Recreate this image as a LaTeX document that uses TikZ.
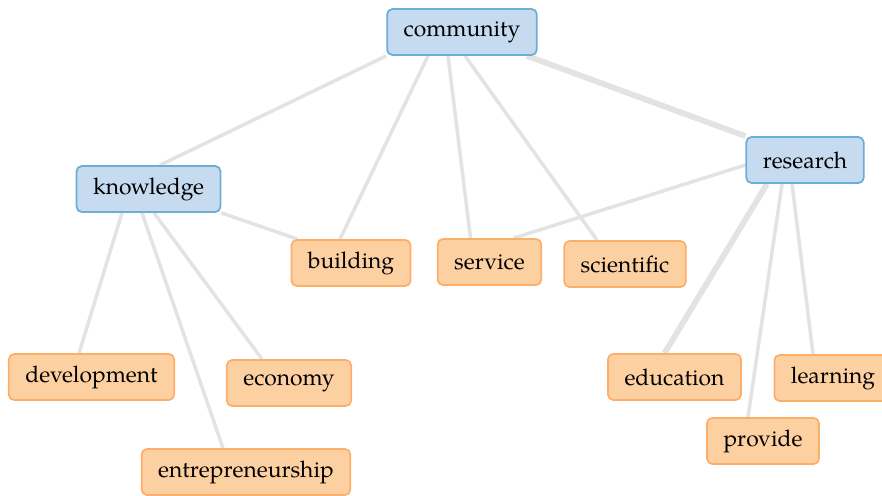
\documentclass[tikz,border=0pt]{standalone}
\usepackage{fontspec}
\setmainfont{TeX Gyre Pagella}
\usetikzlibrary{calc,backgrounds}
\definecolor{topfill}{HTML}{C6DBEF}
\definecolor{topline}{HTML}{6BAED6}
\definecolor{subfill}{HTML}{FDD0A2}
\definecolor{subline}{HTML}{FDAE6B}
\definecolor{linkgray}{HTML}{E3E3E3}
\begin{document}
\begin{tikzpicture}[x=0.02cm,y=-0.02cm,
  word/.style={draw, line width=1pt, rounded corners=3pt, minimum height=0.92cm,
    inner xsep=0.33cm, font=\fontsize{13}{15}\selectfont},
  top/.style={word, fill=topfill, draw=topline},
  sub/.style={word, fill=subfill, draw=subline},
  link/.style={linkgray, line width=2pt},
  strong/.style={linkgray, line width=3.3pt}]
\useasboundingbox (0,0) rectangle (882,495);
\node[top] (community) at (462,32) {community};
\node[top] (knowledge) at (148.5,189) {knowledge};
\node[top] (research) at (805,160) {research};
\node[sub] (building) at (351,263) {building};
\node[sub] (service) at (489.5,262) {service};
\node[sub] (scientific) at (625,264) {scientific};
\node[sub] (development) at (91.5,377) {development};
\node[sub] (economy) at (289,383) {economy};
\node[sub] (entrepreneurship) at (246,472) {entrepreneurship};
\node[sub] (education) at (674.5,377) {education};
\node[sub] (learning) at (833,378) {learning};
\node[sub] (provide) at (763,441) {provide};
\begin{scope}[on background layer]
\draw[link] (community.south west) -- ($(knowledge.north)+(11.5,0)$);
\draw[link] ($(community.south)+(-34,0)$) -- ($(building.north)+(-11,0)$);
\draw[link] ($(community.south)+(-14,0)$) -- ($(service.north)+(-19,0)$);
\draw[link] ($(community.south)+(3,0)$) -- ($(scientific.north)+(-28,0)$);
\draw[strong] ($(community.south)+(65,0)$) -- (research.north west);
\draw[link] ($(research.west)+(0,5)$) -- ($(service.north)+(24,0)$);
\draw[strong] ($(research.south)+(-38,0)$) -- ($(education.north)+(-10,0)$);
\draw[link] ($(research.south)+(-23,0)$) -- ($(provide.north)+(-15,0)$);
\draw[link] ($(research.south)+(-13,0)$) -- ($(learning.north)+(-20,0)$);
\draw[link] (knowledge.south east) -- ($(building.north west)+(7,0)$);
\draw[link] ($(knowledge.south)+(-26.5,0)$) -- ($(development.north)+(-12.5,0)$);
\draw[link] ($(knowledge.south)+(-6.5,0)$) -- ($(entrepreneurship.north)+(-23,0)$);
\draw[link] ($(knowledge.south)+(5.5,0)$) -- ($(economy.north)+(-27,0)$);
\end{scope}
\end{tikzpicture}
\end{document}
